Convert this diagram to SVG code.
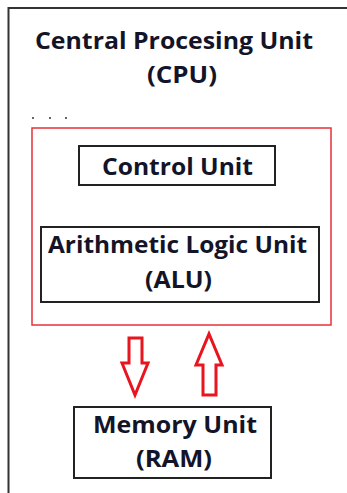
<svg xmlns="http://www.w3.org/2000/svg" width="347" height="493" viewBox="0 0 347 493">
<style>
.t{font-family:"Open Sans","Liberation Sans",sans-serif;font-weight:bold;font-size:23px;fill:#141428}
.box{fill:#fff;stroke:#222;stroke-width:2}
.arr{fill:#fff;stroke:#e8141e;stroke-width:3;stroke-linejoin:miter}
</style>
<rect width="347" height="493" fill="#fff"/>
<g id="cpu">
<rect x="8.5" y="8" width="360" height="500" fill="none" stroke="#333" stroke-width="2"/>
<text class="t" x="35" y="49" textLength="278" lengthAdjust="spacingAndGlyphs">Central Procesing Unit</text>
<text class="t" x="147" y="83" textLength="70" lengthAdjust="spacingAndGlyphs">(CPU)</text>
<circle cx="33" cy="118" r="1" fill="#333"/>
<circle cx="50" cy="118" r="1" fill="#333"/>
<circle cx="66" cy="118" r="1" fill="#333"/>
<rect x="32" y="128" width="299" height="197" fill="none" stroke="#e8303a" stroke-width="1.5"/>
</g>
<g id="control-unit">
<rect class="box" x="79" y="146" width="196" height="39"/>
<text class="t" x="102" y="175" textLength="151" lengthAdjust="spacingAndGlyphs">Control Unit</text>
</g>
<g id="alu">
<rect class="box" x="41" y="227" width="278" height="75"/>
<text class="t" x="48" y="253" textLength="259" lengthAdjust="spacingAndGlyphs">Arithmetic Logic Unit</text>
<text class="t" x="145" y="288" textLength="67" lengthAdjust="spacingAndGlyphs">(ALU)</text>
</g>
<g id="memory">
<rect class="box" x="74" y="407" width="197" height="71"/>
<text class="t" x="93" y="433" textLength="164" lengthAdjust="spacingAndGlyphs">Memory Unit</text>
<text class="t" x="136" y="467" textLength="76" lengthAdjust="spacingAndGlyphs">(RAM)</text>
</g>
<g id="connectors">
<polygon class="arr" points="129,338 142,338 142,363 148,363 135,395 122,363 129,363"/>
<polygon class="arr" points="203,395 216,395 216,365 222,365 209,334 196,365 203,365"/>
</g>
</svg>
